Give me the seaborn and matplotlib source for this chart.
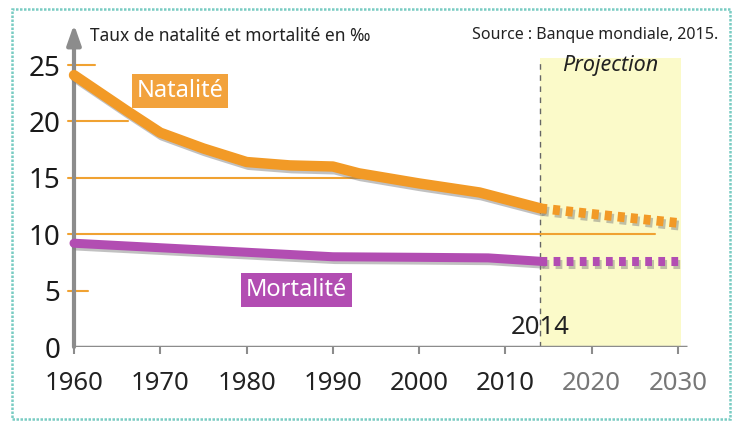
import matplotlib
matplotlib.use("Agg")
import matplotlib.pyplot as plt
import matplotlib.patheffects as pe
from matplotlib.patches import Rectangle
import seaborn as sns
import pandas as pd

# ---------------- data ----------------
nat_years = [1960, 1966, 1970, 1975, 1980, 1985, 1990, 1993, 2000, 2007, 2014]
natalite = [24.1, 21.0, 19.0, 17.6, 16.4, 16.1, 16.0, 15.4, 14.5, 13.7, 12.3]
nat_proj_years = [2014, 2020, 2025, 2030]
natalite_proj = [12.3, 11.8, 11.4, 11.0]

mort_years = [1960, 1975, 1990, 2000, 2008, 2014]
mortalite = [9.2, 8.6, 8.0, 7.95, 7.9, 7.6]
mort_proj_years = [2014, 2020, 2025, 2030]
mortalite_proj = [7.6, 7.6, 7.6, 7.6]

x_ticks = [1960, 1970, 1980, 1990, 2000, 2010, 2020, 2030]
y_ticks = [0, 5, 10, 15, 20, 25]
# gridline extents (start, end year) per y level
grid_levels = [25, 20, 15, 10, 5]
grid_ends = [1962.4, 1966.3, 1994.0, 2027.3, 1961.6]

title = "Taux de natalité et mortalité en ‰"
source = "Source : Banque mondiale, 2015."

ORANGE = "#F29A26"
ORANGE_BOX = "#F2A23C"
PURPLE = "#B24DB2"
GRID = "#F0A232"
AXGRAY = "#8C8C8C"
YELLOW = "#FBFAC9"
TEAL = "#79CCC3"

sns.set_theme(style="white")
plt.rcParams["font.family"] = ["Noto Sans", "DejaVu Sans"]

W, H = 739, 421
fig = plt.figure(figsize=(W / 100, H / 100), dpi=100)
fig.patch.set_facecolor("white")

# axes placement (pixels)
x0, x1 = 1958, 2033
y0, y1 = 0, 29
ppy = 8.63
ppv = 11.28
left_px = 74 - (1960 - x0) * ppy
right_px = 678 + (x1 - 2030) * ppy
bottom_px = 347
top_px = bottom_px - (y1 - y0) * ppv
ax = fig.add_axes([left_px / W, 1 - bottom_px / H, (right_px - left_px) / W, (bottom_px - top_px) / H])
ax.set_xlim(x0, x1)
ax.set_ylim(y0, y1)
ax.patch.set_alpha(0)
for s in ax.spines.values():
    s.set_visible(False)

# projection zone
ax.axvspan(2014, 2030.4, ymin=0, ymax=25.6 / y1, color=YELLOW, zorder=0, lw=0)
ax.plot([2014, 2014], [0, 25.4], color="#666666", lw=1, ls=(0, (4, 4)), zorder=1)

# orange grid lines
for lv, end in zip(grid_levels, grid_ends):
    ax.plot([1959.3, end], [lv, lv], color=GRID, lw=1.5, zorder=1)

# axes lines
ax.plot([1960, 2031.1], [0, 0], color=AXGRAY, lw=2.5, zorder=2, solid_capstyle="butt")
ax.annotate("", xy=(1960, 28.6), xytext=(1960, 0), zorder=2,
            arrowprops=dict(arrowstyle="-|>,head_length=1.0,head_width=0.35",
                            color=AXGRAY, lw=3, shrinkA=0, shrinkB=0))

shadow = [pe.SimpleLineShadow(offset=(1.5, -2), shadow_color="#777777", alpha=0.45), pe.Normal()]

df_nat = pd.DataFrame({"year": nat_years, "val": natalite})
df_nat_p = pd.DataFrame({"year": nat_proj_years, "val": natalite_proj})
df_mort = pd.DataFrame({"year": mort_years, "val": mortalite})
df_mort_p = pd.DataFrame({"year": mort_proj_years, "val": mortalite_proj})

sns.lineplot(data=df_nat, x="year", y="val", ax=ax, color=ORANGE, lw=7.5, zorder=4)
ax.lines[-1].set_path_effects(shadow)
ax.lines[-1].set_solid_joinstyle("round")
sns.lineplot(data=df_nat_p, x="year", y="val", ax=ax, color=ORANGE, lw=7, zorder=4)
ax.lines[-1].set_dashes((0.72, 0.62))
ax.lines[-1].set_dash_capstyle("butt")
ax.lines[-1].set_path_effects(shadow)

sns.lineplot(data=df_mort, x="year", y="val", ax=ax, color=PURPLE, lw=6.5, zorder=4)
ax.lines[-1].set_path_effects(shadow)
sns.lineplot(data=df_mort_p, x="year", y="val", ax=ax, color=PURPLE, lw=6.5, zorder=4)
ax.lines[-1].set_dashes((0.75, 0.7))
ax.lines[-1].set_dash_capstyle("butt")
ax.lines[-1].set_path_effects(shadow)

# ticks
ax.set_xticks(x_ticks)
ax.set_xticklabels([str(t) for t in x_ticks])
ax.set_yticks(y_ticks)
ax.set_yticklabels([str(t) for t in y_ticks])
ax.tick_params(axis="x", bottom=True, length=5, width=1.5, color=AXGRAY, pad=12, labelsize=18.5)
ax.tick_params(axis="y", left=False, length=0, pad=-2.5, labelsize=20)
for lbl in ax.get_xticklabels():
    lbl.set_color("#777777" if int(lbl.get_text()) >= 2020 else "#222222")
for lbl in ax.get_yticklabels():
    lbl.set_color("#1A1A1A")
ax.set_xlabel("")
ax.set_ylabel("")

# labels
ax.text(1972.3, 22.7, "Natalité", color="white", fontsize=17, ha="center", va="center", zorder=5,
        bbox=dict(boxstyle="square,pad=0.2", fc=ORANGE_BOX, ec="none"))
ax.text(1985.8, 5.05, "Mortalité", color="white", fontsize=17, ha="center", va="center", zorder=5,
        bbox=dict(boxstyle="square,pad=0.2", fc=PURPLE, ec="none"))
ax.text(2014, 1.75, "2014", color="#222222", fontsize=18.5, ha="center", va="center", zorder=5)

fig.text(90 / W, 1 - 36 / H, title, fontsize=12.5, color="#222222", ha="left", va="center")
fig.text(718 / W, 1 - 35 / H, source, fontsize=11.5, color="#222222", ha="right", va="center")
fig.text(610 / W, 1 - 66 / H, "Projection", fontsize=15.5, style="italic", color="#222222",
         ha="center", va="center")

# frame
fig.patches.append(Rectangle((12 / W, 1 - 419 / H), (730 - 12) / W, (419 - 9) / H,
                             transform=fig.transFigure, fill=False, ec=TEAL, lw=1.8,
                             ls=(0, (1, 0.6))))

fig.savefig("out.png", dpi=100)
